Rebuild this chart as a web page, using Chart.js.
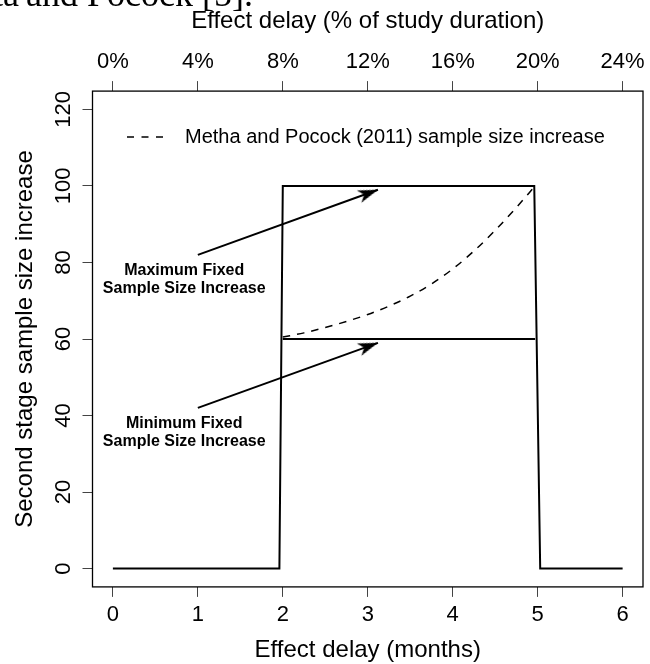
<!DOCTYPE html>
<html>
<head>
<meta charset="utf-8">
<script src="https://cdn.jsdelivr.net/npm/chart.js@4.4.1/dist/chart.umd.min.js"></script>
<style>
html,body{margin:0;padding:0;background:#fff;}
canvas{display:block;}
</style>
</head>
<body>
<canvas id="c" width="650" height="664"></canvas>
<script>
// ---- data ----
const monthTicks = [0, 1, 2, 3, 4, 5, 6];
const monthLabels = ['0', '1', '2', '3', '4', '5', '6'];
const percentLabels = ['0%', '4%', '8%', '12%', '16%', '20%', '24%'];
const yTicks = [0, 20, 40, 60, 80, 100, 120];
const yLabels = ['0', '20', '40', '60', '80', '100', '120'];

const maxFixedX = [0, 1.96, 2.0, 4.96, 5.03, 6];
const maxFixedY = [0, 0, 100, 100, 0, 0];
const minFixedX = [2.0, 4.97];
const minFixedY = [60, 60];
const mehtaX = [2.0, 2.25, 2.5, 2.75, 3.0, 3.25, 3.5, 3.75, 4.0, 4.25, 4.5, 4.75, 4.97];
const mehtaY = [60.5, 61.6, 63.0, 64.6, 66.4, 68.6, 71.2, 74.4, 78.3, 83.0, 88.4, 94.4, 100];
const arrowMaxX = [1.0, 3.12];
const arrowMaxY = [82, 99];
const arrowMinX = [1.0, 3.12];
const arrowMinY = [42, 59];

const noteMax = ['Maximum Fixed', 'Sample Size Increase'];
const noteMaxAt = [0.84, 75.5];
const noteMin = ['Minimum Fixed', 'Sample Size Increase'];
const noteMinAt = [0.84, 35.6];

const legendText = 'Metha and Pocock (2011) sample size increase';
const xTitle = 'Effect delay (months)';
const x2Title = 'Effect delay (% of study duration)';
const yTitle = 'Second stage sample size increase';
const paperTextLeft = 'Mehta';
const paperTextRight = 'and Pocock [5].';

// ---- helpers ----
const zip = (xs, ys) => xs.map((x, i) => ({x: x, y: ys[i]}));
const SANS = '"Liberation Sans", Arial, Helvetica, sans-serif';
Chart.defaults.font.family = SANS;
Chart.defaults.color = '#000';

function makeArrowHead() {
  const c = document.createElement('canvas');
  c.width = 48; c.height = 48;
  const g = c.getContext('2d');
  g.fillStyle = '#000';
  g.beginPath();
  g.moveTo(24, 24);
  g.lineTo(30.5, 44);
  g.lineTo(24, 38.5);
  g.lineTo(17.5, 44);
  g.closePath();
  g.fill();
  return c;
}
const arrowHead = makeArrowHead();

function arrowRotation(ctx) {
  const ch = ctx.chart;
  const xs = ch.scales.x, ys = ch.scales.y;
  const d = ctx.dataset.data;
  const a = d[0], b = d[d.length - 1];
  const dx = xs.getPixelForValue(b.x) - xs.getPixelForValue(a.x);
  const dy = ys.getPixelForValue(b.y) - ys.getPixelForValue(a.y);
  return Math.atan2(dy, dx) * 180 / Math.PI + 90;
}

const base = {
  borderColor: '#000', backgroundColor: '#000', pointRadius: 0, pointHoverRadius: 0,
  fill: false, showLine: true, tension: 0
};

const arrowDs = (xs, ys, label) => Object.assign({}, base, {
  label: label,
  data: zip(xs, ys),
  borderWidth: 2,
  pointStyle: ctx => ctx.dataIndex === 1 ? arrowHead : 'circle',
  pointRadius: ctx => ctx.dataIndex === 1 ? 5 : 0,
  rotation: arrowRotation
});

const tickGrid = {
  drawOnChartArea: false, drawTicks: true, tickLength: 10,
  color: '#444', tickColor: '#444', lineWidth: 1, tickWidth: 1
};

const rPlot = {
  id: 'rPlot',
  beforeDraw(chart) {
    const ctx = chart.ctx;
    ctx.save();
    ctx.fillStyle = '#fff';
    ctx.fillRect(0, 0, chart.width, chart.height);
    ctx.restore();
  },
  afterDraw(chart) {
    const ctx = chart.ctx;
    const a = chart.chartArea;
    const xs = chart.scales.x, ys = chart.scales.y;
    ctx.save();
    // plot box
    ctx.strokeStyle = '#000';
    ctx.lineWidth = 1.3;
    ctx.strokeRect(a.left, a.top, a.right - a.left, a.bottom - a.top);

    // y tick labels (rotated, as in R)
    ctx.fillStyle = '#000';
    ctx.font = '22px ' + SANS;
    ctx.textAlign = 'center';
    ctx.textBaseline = 'alphabetic';
    yTicks.forEach((v, i) => {
      const py = ys.getPixelForValue(v);
      ctx.save();
      ctx.translate(a.left - 22.5, py);
      ctx.rotate(-Math.PI / 2);
      ctx.fillText(yLabels[i], 0, 0);
      ctx.restore();
    });

    // legend (inside the plot, no box)
    const ly = a.top + 46;
    ctx.setLineDash([7, 7.5]);
    ctx.lineWidth = 1.5;
    ctx.beginPath();
    ctx.moveTo(a.left + 34.5, ly);
    ctx.lineTo(a.left + 70.5, ly);
    ctx.stroke();
    ctx.setLineDash([]);
    ctx.font = '20px ' + SANS;
    ctx.textAlign = 'left';
    ctx.textBaseline = 'middle';
    ctx.fillText(legendText, a.left + 92.5, ly);

    // annotations
    ctx.font = 'bold 16px ' + SANS;
    ctx.textAlign = 'center';
    ctx.textBaseline = 'middle';
    [[noteMax, noteMaxAt], [noteMin, noteMinAt]].forEach(([lines, at]) => {
      const px = xs.getPixelForValue(at[0]);
      const py = ys.getPixelForValue(at[1]);
      ctx.fillText(lines[0], px, py - 9);
      ctx.fillText(lines[1], px, py + 9);
    });

    // cropped line of the surrounding document text
    ctx.font = '36px "Liberation Serif", "Times New Roman", serif';
    ctx.textBaseline = 'alphabetic';
    ctx.textAlign = 'right';
    ctx.fillText(paperTextLeft, 19, 6);
    ctx.textAlign = 'left';
    ctx.fillText(paperTextRight, 26, 6);
    ctx.restore();
  }
};

new Chart(document.getElementById('c'), {
  type: 'scatter',
  data: {
    datasets: [
      Object.assign({}, base, {label: 'max', data: zip(maxFixedX, maxFixedY), borderWidth: 2}),
      Object.assign({}, base, {label: 'min', data: zip(minFixedX, minFixedY), borderWidth: 2}),
      Object.assign({}, base, {label: 'mehta', data: zip(mehtaX, mehtaY), borderWidth: 1.5,
        borderDash: [7.5, 7], cubicInterpolationMode: 'monotone'}),
      arrowDs(arrowMaxX, arrowMaxY, 'arrowMax'),
      arrowDs(arrowMinX, arrowMinY, 'arrowMin')
    ]
  },
  options: {
    responsive: false,
    animation: false,
    devicePixelRatio: 1,
    events: [],
    layout: {padding: {left: 0, right: 4.5, top: 0, bottom: 0}},
    plugins: {legend: {display: false}, tooltip: {enabled: false}},
    scales: {
      x: {
        type: 'linear', position: 'bottom', min: -0.24, max: 6.24,
        afterBuildTicks: s => { s.ticks = monthTicks.map(v => ({value: v})); },
        afterFit: s => { s.height = 77.1; s.paddingLeft = 0; s.paddingRight = 0; },
        ticks: {
          callback: (v, i) => monthLabels[i], autoSkip: false, maxRotation: 0, minRotation: 0,
          font: {size: 22, lineHeight: 1}, padding: 7, color: '#000'
        },
        grid: tickGrid,
        border: {display: false},
        title: {display: true, text: xTitle, font: {size: 24, lineHeight: 1},
          padding: {top: 0, bottom: 1.2}, color: '#000'}
      },
      x2: {
        type: 'linear', position: 'top', min: -0.24, max: 6.24,
        afterBuildTicks: s => { s.ticks = monthTicks.map(v => ({value: v})); },
        afterFit: s => { s.height = 91.1; s.paddingLeft = 0; s.paddingRight = 0; },
        ticks: {
          callback: (v, i) => percentLabels[i], autoSkip: false, maxRotation: 0, minRotation: 0,
          font: {size: 22, lineHeight: 1}, padding: 8, color: '#000'
        },
        grid: tickGrid,
        border: {display: false},
        title: {display: true, text: x2Title, font: {size: 24, lineHeight: 1},
          padding: {top: 9, bottom: 0}, color: '#000'}
      },
      y: {
        type: 'linear', position: 'left', min: -4.8, max: 124.8,
        afterBuildTicks: s => { s.ticks = yTicks.map(v => ({value: v})); },
        afterFit: s => { s.width = 92.5; s.paddingTop = 0; s.paddingBottom = 0; },
        ticks: {display: false},
        grid: tickGrid,
        border: {display: false},
        title: {display: true, text: yTitle, font: {size: 24, lineHeight: 1},
          padding: {top: 13, bottom: 0}, color: '#000'}
      }
    }
  },
  plugins: [rPlot]
});
</script>
</body>
</html>
